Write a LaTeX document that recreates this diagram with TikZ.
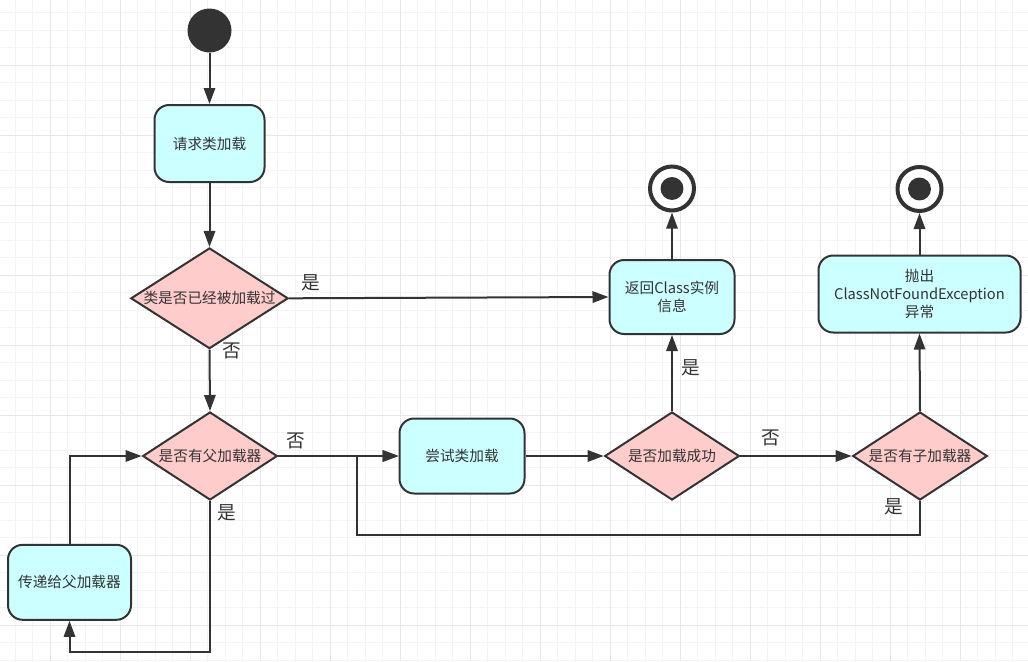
\documentclass[tikz,border=0pt]{standalone}
\usepackage{fontspec}
\newfontfamily\cjk{Noto Sans CJK SC}
\usetikzlibrary{shapes.geometric,arrows.meta}
\definecolor{inkgrey}{RGB}{51,51,51}
\definecolor{boxcyan}{RGB}{204,255,255}
\definecolor{boxpink}{RGB}{255,204,204}
\definecolor{gridlight}{RGB}{244,244,244}
\definecolor{gridmid}{RGB}{232,232,232}
\newcommand{\nodefont}{\cjk\fontsize{11pt}{13.7pt}\selectfont}
\newcommand{\lblfont}{\cjk\fontsize{14pt}{16pt}\selectfont}
\tikzset{
  proc/.style={draw=inkgrey, fill=boxcyan, line width=1.5pt, rounded corners=11pt, align=center, text=inkgrey, font=\nodefont, inner sep=0pt},
  decide/.style={diamond, draw=inkgrey, fill=boxpink, line width=1.5pt, text=inkgrey, font=\nodefont, inner sep=0pt},
  final/.style={circle, draw=inkgrey, fill=white, line width=3pt, minimum size=33pt, inner sep=0pt, path picture={\fill[inkgrey] (path picture bounding box.center) circle (8.6pt);}},
  flow/.style={draw=inkgrey, line width=1.5pt, -{Triangle[length=12pt,width=8.5pt]}},
  lbl/.style={text=inkgrey, font=\lblfont, inner sep=0pt},
}
\begin{document}
\begin{tikzpicture}[x=0.75pt,y=0.75pt,yscale=-1,xscale=1]
\useasboundingbox (0,0) rectangle (1028,661);
%Grid background
\fill[white] (0,0) rectangle (1028,661);
\foreach \gx in {15,32.5,...,1028} \draw[gridlight, line width=0.75pt] (\gx,0) -- (\gx,661);
\foreach \gy in {12.5,30,...,661} \draw[gridlight, line width=0.75pt] (0,\gy) -- (1028,\gy);
\foreach \gx in {50,120,...,1028} \draw[gridmid, line width=0.75pt] (\gx,0) -- (\gx,661);
\foreach \gy in {65,135,...,661} \draw[gridmid, line width=0.75pt] (0,\gy) -- (1028,\gy);

%Shape: start dot
\node[circle, fill=inkgrey, minimum size=33pt, inner sep=0pt] (start) at (209.5,30.5) {};
%Shape: process boxes
\node[proc, minimum width=82.5pt, minimum height=57.75pt] (request) at (209.5,143.5) {请求类加载};
\node[proc, minimum width=92.25pt, minimum height=56.25pt] (delegate) at (69.5,582.3) {传递给父加载器};
\node[proc, minimum width=93.75pt, minimum height=56.25pt] (tryload) at (462,456) {尝试类加载};
\node[proc, minimum width=93.75pt, minimum height=55.5pt] (retclass) at (672,297) {返回Class实例\\信息};
\node[proc, minimum width=151.5pt, minimum height=57.75pt] (throwex) at (919.5,294) {抛出\\ClassNotFoundException\\异常};
%Shape: decisions
\node[decide, shape aspect=1.56, minimum width=118pt, minimum height=75.5pt] (loaded) at (209.5,298.3) {类是否已经被加载过};
\node[decide, shape aspect=1.53, minimum width=101pt, minimum height=66pt] (parent) at (210,456) {是否有父加载器};
\node[decide, shape aspect=1.53, minimum width=101pt, minimum height=66pt] (success) at (672,456) {是否加载成功};
\node[decide, shape aspect=1.53, minimum width=101pt, minimum height=66pt] (child) at (920,456) {是否有子加载器};
%Shape: end dots
\node[final] (endok) at (672,188.5) {};
\node[final] (endfail) at (919.5,189) {};

%Bend points
\coordinate (loopfoot) at (69.5,652.3);
\coordinate (backfoot) at (357,534.5);

%Connectors
\draw[flow] (start) -- (request);
\draw[flow] (request) -- (loaded);
\draw[flow] (loaded.east) -- (retclass.west);
\draw[flow] (loaded.south) -- (parent.north);
\draw[flow] (parent.east) -- (tryload.west);
\draw[flow] (parent.south) |- (loopfoot) -- (delegate.south);
\draw[flow] (delegate.north) |- (parent.west);
\draw[flow] (tryload.east) -- (success.west);
\draw[flow] (success.north) -- (retclass.south);
\draw[flow] (success.east) -- (child.west);
\draw[flow] (child.north) -- (throwex.south);
\draw[flow] (child.south) |- (backfoot) |- (tryload.west);
\draw[flow] (retclass.north) -- (endok);
\draw[flow] (throwex.north) -- (endfail);

% Text Node
\node[lbl] (yesloaded) at (311,283) {是};
\node[lbl] (noloaded) at (232,351) {否};
\node[lbl] (noparent) at (296,441) {否};
\node[lbl] (yesparent) at (227,512.5) {是};
\node[lbl] (yessuccess) at (691,368) {是};
\node[lbl] (nosuccess) at (771,438) {否};
\node[lbl] (yeschild) at (894,507) {是};

\end{tikzpicture}
\end{document}
